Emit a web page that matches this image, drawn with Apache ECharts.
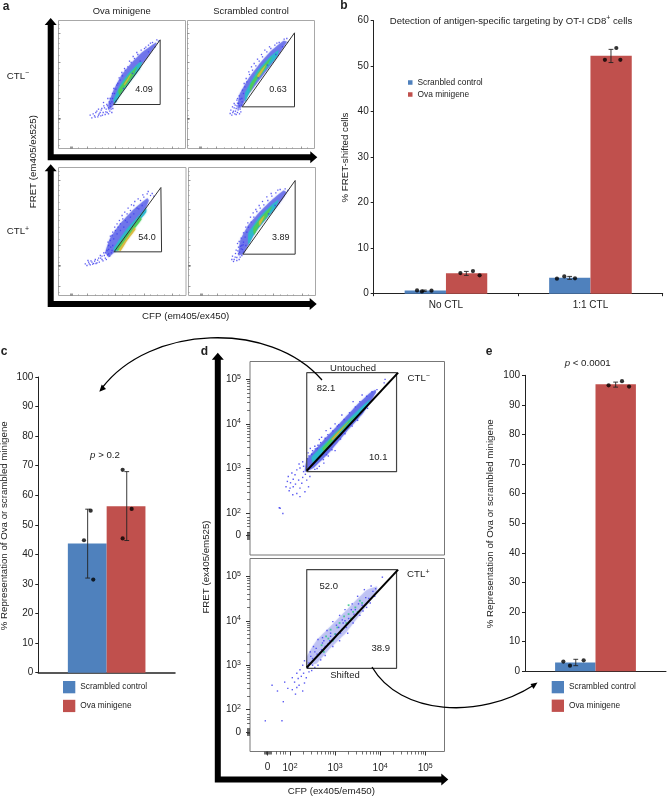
<!DOCTYPE html>
<html><head><meta charset="utf-8">
<style>html,body{margin:0;padding:0;background:#fff}#c{width:667px;height:797px}</style>
<script src="https://cdn.jsdelivr.net/npm/echarts@6/dist/echarts.min.js"></script>
</head><body><div id="c"></div>
<script>
const FONT='"Liberation Sans"';
const BLUE='#4f81bd', RED='#c0504d', NAME_S='Scrambled control', NAME_O='Ova minigene', NAME_TYPO='Scranbled control';

// ---- panel b values
const bCategories=['No CTL','1:1 CTL'];
const bScrambled=[0.7,3.5];
const bOva=[4.5,52.3];
const bDots=[[0.30,0.73],[0.334,0.5],[0.40,0.66],[0.60,4.54],[0.687,4.98],[0.733,4.03],[1.268,3.3],[1.319,3.8],[1.393,3.37],[1.60,51.4],[1.679,54],[1.707,51.4]];
const bErrors=[[0.35,0.5,0.8],[0.641,4.03,4.9],[1.356,3.15,3.8],[1.642,50.8,53.7]];
// ---- panel c values
const cScrambled=[43.7];
const cOva=[56.3];
const cDots=[[0.383,54.8],[0.334,44.8],[0.402,31.5],[0.617,68.6],[0.683,55.4],[0.617,45.4]];
const cErrors=[[0.361,32,55.3],[0.647,44.7,68]];
// ---- panel e values
const eScrambled=[3.0];
const eOva=[97];
const eDots=[[0.272,3.3],[0.319,1.9],[0.416,3.7],[0.593,96.6],[0.688,98],[0.738,96.2]];
const eErrors=[[0.36,1.9,4.05],[0.643,96,97.7]];

// ---- panel a: flow plots, channel units
const aTL={
 gate:[[165,132],[305,326],[305,132],[165,132]],
 blue:[[150,135],[165,175],[190,222],[220,258],[250,288],[292,318],[295,315],[265,270],[235,235],[205,195],[175,155],[165,130],[150,115]],
 cyan:[[165,145],[185,190],[210,225],[240,255],[250,260],[245,240],[215,200],[185,160],[170,135]],
 green:[[180,175],[210,217],[235,245],[225,220],[200,187],[183,160]],
 hot:[[197,193],[218,226],[212,212],[199,190]],
 specks:[[95,100],[100,92],[108,98],[112,108],[118,95],[122,104],[128,115],[132,100],[138,122],[142,110],[147,128],[150,104],[155,135],[158,118],[162,150],[168,165],[172,178],[178,195],[185,205],[192,218],[200,235],[208,245],[218,258],[228,270],[238,282],[248,295],[258,300],[270,310],[282,318],[295,326],[120,118],[135,138],[148,150],[300,322],[290,305],[270,290],[245,262],[222,225],[195,180],[172,142],
  [104,104],[110,94],[115,112],[120,100],[125,108],[127,98],[130,120],[134,108],[136,128],[140,102],[143,118],[145,132],[146,108],[150,122],[152,140],[154,112],[156,126],[160,140],[160,108],[163,120],[155,150],[162,165],[166,180],[175,190],[182,212],[190,228],[198,240],[213,262],[224,276],[235,288],[262,304],[276,316]]
};
const aTR={
 gate:[[164,125],[321,347],[321,125],[164,125]],
 blue:[[155,160],[183,210],[213,250],[248,290],[288,323],[298,320],[273,280],[238,235],[208,195],[178,155],[163,125],[150,118]],
 cyan:[[173,165],[208,230],[248,275],[273,295],[268,275],[228,230],[193,185],[173,140]],
 green:[[188,190],[218,235],[253,275],[233,240],[203,200],[188,170]],
 hot:[[210,220],[236,253],[225,232],[212,212]],
 specks:[[128,105],[133,100],[138,112],[142,104],[146,120],[150,108],[153,135],[158,118],[163,150],[168,165],[172,185],[178,200],[186,222],[195,235],[205,248],[215,262],[225,275],[238,290],[250,300],[262,310],[275,318],[290,328],[298,330],[135,125],[140,135],[148,145],[155,158],[300,318],[285,305],[265,282],[240,250],[212,212],
  [130,115],[136,108],[140,122],[144,112],[148,128],[150,136],[152,116],[156,104],[156,128],[158,148],[160,110],[162,130],[164,140],[146,102],[143,130],[150,150],[165,175],[170,195],[176,210],[184,230],[192,245],[200,255],[210,268],[222,282],[232,295],[246,305],[268,316]]
};
const aBL={
 gate:[[166,131],[306,324],[308,131],[166,131]],
 blue:[[140,130],[154,172],[184,215],[224,258],[265,292],[270,285],[254,247],[224,207],[194,167],[169,132],[150,115]],
 cyan:[[165,140],[205,200],[250,250],[262,262],[262,250],[225,205],[185,150],[170,130]],
 green:[[172,140],[210,192],[245,235],[248,228],[212,182],[178,133]],
 hot:[[180,137],[212,182],[228,205],[230,198],[205,165],[185,133]],
 specks:[[80,95],[85,90],[90,100],[95,92],[100,100],[105,96],[110,108],[115,98],[120,112],[125,120],[130,108],[135,128],[140,112],[145,135],[150,150],[155,165],[160,180],[165,170],[170,195],[178,205],[185,215],[192,230],[200,225],[205,245],[215,255],[225,270],[235,262],[245,285],[255,295],[265,305],[275,300],[285,298],[175,185],[185,195],[195,205],[205,220],[215,235],[225,245],[240,260],[250,270],[150,125],[160,135],
  [88,105],[92,95],[97,104],[102,94],[108,103],[112,96],[117,106],[122,100],[126,112],[130,118],[133,104],[137,120],[140,128],[143,108],[147,122],[150,138],[153,118],[156,145],[158,128],[162,150],[148,160],[155,178],[162,190],[168,205],[175,215],[182,225],[190,240],[198,250],[208,262],[218,272],[228,282],[238,290],[252,302],[268,312],[280,306]]
};
const aBR={
 gate:[[163,124],[320,345],[320,124],[163,124]],
 blue:[[155,165],[180,212],[210,247],[245,282],[285,315],[295,309],[270,272],[235,232],[205,197],[180,152],[165,125],[150,120]],
 cyan:[[180,187],[210,232],[245,267],[270,287],[260,262],[225,222],[195,182],[180,152]],
 green:[[195,202],[225,242],[250,267],[235,237],[210,207],[197,182]],
 hot:[[212,222],[228,240],[221,224],[214,209]],
 specks:[[130,108],[135,102],[140,115],[145,105],[150,125],[155,115],[158,140],[165,130],[165,160],[170,175],[175,190],[180,205],[188,220],[196,235],[205,252],[215,262],[226,272],[238,285],[250,298],[262,308],[275,318],[290,320],[298,315],[150,145],[160,150],[172,150],[260,270],[240,245],
  [132,118],[137,108],[141,126],[145,114],[148,134],[152,108],[153,130],[156,148],[160,120],[162,138],[164,152],[143,136],[147,156],[152,162],[158,172],[165,188],[172,205],[178,218],[186,235],[194,248],[202,258],[212,270],[222,282],[235,296],[248,306],[268,316]]
};
// ---- panel d: flow plots, log10 decade units
const dGateRect=[[2.37,2.93],[2.37,5.15],[4.365,5.15],[4.365,2.93],[2.37,2.93]];
const dGateDiag=[[2.37,2.95],[4.40,5.15]];
const dTop={
 blue:[[2.37,3.2],[2.74,3.63],[3.11,4.02],[3.48,4.42],[3.78,4.70],[3.90,4.76],[3.91,4.71],[3.63,4.25],[3.26,3.83],[2.89,3.38],[2.52,3.01],[2.33,2.93]],
 cyan:[[2.48,3.25],[2.89,3.68],[3.26,4.06],[3.63,4.42],[3.78,4.55],[3.63,4.31],[3.26,3.93],[2.89,3.52],[2.52,3.10]],
 green:[[2.72,3.45],[2.96,3.72],[3.26,4.02],[3.48,4.21],[3.26,3.98],[2.96,3.65],[2.75,3.40]],
 hot:[[2.92,3.66],[3.15,3.90],[3.30,4.06],[3.17,3.90],[2.94,3.64]],
 specks:[[1.78,2.11],[1.84,1.99],[1.76,2.12],[1.94,2.71],[2.0,2.56],[2.07,2.59],[2.15,2.44],[2.22,2.37],[2.06,2.41],[1.96,2.82],[2.11,2.86],[2.19,2.74],[2.26,2.67],[2.37,2.74],[2.44,2.82],[2.30,2.93],[2.22,3.01],[2.15,2.97],[2.07,2.76],[2.22,2.56],[2.41,2.59],[2.33,2.48],[2.01,2.68],[1.91,2.59],[4.11,5.0],[4.09,4.92],[3.93,4.77],[2.74,3.2],[2.81,3.31],[2.93,3.42],[3.0,3.4],[2.2,3.1],[2.45,3.45],[2.55,3.5],[2.65,3.65],[2.8,3.85],[3.0,4.0],[3.15,4.2],[3.4,4.5],[3.6,4.65],[2.28,3.15],[2.3,3.05],[2.4,3.35],[2.5,3.4],[2.6,3.45],[2.7,3.7],[2.9,3.9],[3.05,3.95],[2.55,2.98],[2.65,3.05],[2.75,3.12],[2.12,2.65],[2.28,2.8],[2.34,2.87],[2.04,2.9],[1.98,2.5],
  [2.38,3.22],[2.42,3.28],[2.48,3.32],[2.56,3.44],[2.62,3.52],[2.68,3.58],[2.78,3.68],[2.84,3.76],[2.95,3.84],[3.08,3.98],[3.2,4.1],[3.32,4.25],[3.45,4.38],[3.55,4.5],[3.7,4.62],[3.82,4.72],[3.12,3.66],[3.22,3.78],[3.38,3.95],[3.5,4.08],[3.72,4.35],[2.6,3.0],[2.85,3.28]]
};
const dBottom={
 blue:[[2.37,3.19],[2.59,3.56],[2.96,3.94],[3.33,4.32],[3.70,4.69],[3.93,4.77],[3.93,4.65],[3.63,4.24],[3.26,3.75],[2.89,3.38],[2.59,3.04],[2.37,3.0]],
 greenSpecks:[[2.9,3.8],[3.05,3.85],[3.2,4.1],[3.3,4.15],[3.0,3.7],[2.85,3.6],[2.7,3.45],[3.1,3.95],[3.35,4.05],[3.45,4.3],[3.55,4.45],[3.25,3.95],[3.4,4.2],[2.95,3.55],[3.15,3.8],[3.5,4.2],[2.75,3.3],[2.8,3.65],[3.6,4.4],[3.3,4.35]],
 specks:[[1.85,2.18],[1.45,1.75],[1.82,1.75],[1.6,2.55],[1.72,2.42],[1.88,2.62],[1.95,2.48],[2.05,2.45],[2.12,2.35],[2.15,2.5],[2.2,2.55],[2.28,2.42],[2.32,2.6],[2.1,2.62],[2.05,2.72],[2.18,2.7],[2.25,2.75],[2.3,2.82],[2.36,2.72],[2.42,2.85],[2.15,2.82],[2.22,2.9],[2.28,3.0],[2.32,3.1],[2.4,2.95],[2.48,2.88],[2.55,2.95],[2.6,3.25],[2.45,3.3],[2.52,3.42],[2.62,3.58],[2.72,3.62],[2.82,3.78],[2.95,3.98],[3.1,4.12],[3.22,4.25],[3.38,4.38],[3.5,4.55],[3.65,4.7],[3.8,4.78],[3.9,4.72],[4.05,4.98],[3.88,4.55],[3.7,4.3],[3.55,4.12],[3.4,3.95],[3.28,3.72],[3.1,3.55],[2.95,3.42],[2.78,3.22],[2.68,3.12],[2.62,3.0],[2.75,3.55],[2.88,3.55],[3.02,3.7],[3.18,3.95],[3.3,4.05],[3.45,4.25],[3.6,4.35],[2.5,3.15],[2.55,3.3],[2.7,3.35],[2.9,3.65],[3.08,3.85],[3.22,4.0],[3.42,4.15],
  [2.42,3.05],[2.46,3.2],[2.5,3.0],[2.58,3.38],[2.66,3.28],[2.72,3.5],[2.78,3.42],[2.84,3.48],[2.9,3.72],[2.98,3.6],[3.03,3.9],[3.12,3.72],[3.16,4.02],[3.25,3.85],[3.33,4.0],[3.36,4.25],[3.46,4.12],[3.52,4.38],[3.62,4.22],[3.68,4.52],[3.75,4.5],[3.78,4.4],[3.84,4.66]]
};
// ---- tick positions of the decade axes
const dMajor=[1.5,2,3,4,5];
const dMinor=[1.42,1.44,1.46,1.48,1.5,1.52,1.54,1.56,1.58,1.7,1.78,1.84,1.9];
[2,3,4].forEach(d=>[2,3,4,5,6,7,8,9].forEach(k=>dMinor.push(d+Math.log10(k))));
const aMajorY=[27,88,90,92,152,258,347], aMajorX=[36,38,40,85,170,255,340];
const aMinorY=[10,60,80,100,115,135,170,190,205,225,240,280,300,315,330,360,372];
const aMinorX=[60,110,130,150,190,210,230,275,295,315,360];

const grids=[],xAxes=[],yAxes=[],series=[];
function grid(l,t,r,b,extra){grids.push(Object.assign({left:l,top:t,width:r-l,height:b-t,containLabel:false},extra||{}));return grids.length-1;}
function xA(o){xAxes.push(Object.assign({position:'bottom'},o));return xAxes.length-1;}
function yA(o){yAxes.push(Object.assign({position:'left'},o));return yAxes.length-1;}
const labelStyle={fontFamily:FONT,fontSize:10,color:'#222'};
const supRich={n:{fontFamily:FONT,fontSize:10,color:'#222'},s:{fontFamily:FONT,fontSize:7,color:'#222',padding:[0,0,5,0]}};

function polygonSeries(g,xi,yi,layers){
  series.push({type:'custom',xAxisIndex:xi,yAxisIndex:yi,silent:true,clip:true,
    data:layers.map(l=>l.pts[0]),
    renderItem(p,api){const l=layers[p.dataIndex];
      return {type:'polygon',shape:{points:l.pts.map(q=>api.coord(q)),smooth:0.12},style:{fill:l.color,opacity:l.op===undefined?1:l.op,shadowBlur:1.5,shadowColor:l.color}};}});
}
function specks(xi,yi,data,color,size){series.push({type:'scatter',xAxisIndex:xi,yAxisIndex:yi,silent:true,data,symbol:'rect',symbolSize:size||1.3,itemStyle:{color:color||'#3d3df0',opacity:0.85}});}
function gateLine(xi,yi,data,w,color){series.push({type:'line',xAxisIndex:xi,yAxisIndex:yi,silent:true,data,symbol:'none',animation:false,lineStyle:{color:color||'#444',width:w||1}});}

function flowA(box,p){
  const g=grid(box[0],box[1],box[2],box[3],{show:true,borderColor:'#a8a8a8',borderWidth:1,backgroundColor:'transparent'});
  const tick=(v,len,c)=>({show:true,customValues:v,inside:true,length:len,lineStyle:{color:c,width:.6}});
  const base={type:'value',gridIndex:g,min:0,splitLine:{show:false},axisLine:{show:false},axisLabel:{show:false}};
  const x=xA({...base,max:381,axisTick:tick(aMajorX,2,'#555')});
  const y=yA({...base,max:384,axisTick:tick(aMajorY,2,'#555')});
  xA({...base,max:381,axisTick:tick(aMinorX,1.2,'#888')});
  yA({...base,max:384,axisTick:tick(aMinorY,1.2,'#888')});
  polygonSeries(g,x,y,[{pts:p.blue,color:'#4a52e6',op:.55},{pts:p.cyan,color:'#2cb8cc',op:.9},{pts:p.green,color:'#4ecb5a',op:.9},{pts:p.hot,color:'#d8b83a',op:.9}]);
  specks(x,y,p.specks);
  gateLine(x,y,p.gate,1,'#333');
}
flowA([58.5,20.5,185.5,148.5],aTL);
flowA([187.5,20.5,314.5,148.5],aTR);
flowA([58.5,167.5,186,295.5],aBL);
flowA([188.5,167.5,315.5,295.5],aBR);

function flowD(top,bottom,showX,p,layers){
  const g=grid(250,top,444.5,bottom,{show:true,borderColor:'#777',borderWidth:1,backgroundColor:'transparent'});
  const fmt=v=>v===1.5?'{n|0}':'{n|10}{s|'+Math.round(v)+'}';
  const x=xA({type:'value',gridIndex:g,min:1.11,max:5.43,splitLine:{show:false},axisLine:{show:false},
    axisTick:{show:showX,customValues:dMajor,length:4,lineStyle:{color:'#333',width:1}},
    axisLabel:{show:showX,customValues:dMajor,formatter:fmt,rich:supRich,margin:11,hideOverlap:false}});
  const y=yA({type:'value',gridIndex:g,min:1.06,max:5.40,splitLine:{show:false},axisLine:{show:false},
    axisTick:{show:true,customValues:dMajor,length:4,lineStyle:{color:'#333',width:1}},
    axisLabel:{show:true,customValues:dMajor,formatter:fmt,rich:supRich,margin:9,hideOverlap:false}});
  xA({type:'value',gridIndex:g,min:1.11,max:5.43,splitLine:{show:false},axisLine:{show:false},axisLabel:{show:false},
    axisTick:{show:showX,customValues:dMinor,length:3,lineStyle:{color:'#333',width:.7}}});
  yA({type:'value',gridIndex:g,min:1.06,max:5.40,splitLine:{show:false},axisLine:{show:false},axisLabel:{show:false},
    axisTick:{show:true,customValues:dMinor,length:3,lineStyle:{color:'#333',width:.7}}});
  polygonSeries(g,x,y,layers);
  if(p.greenSpecks) specks(x,y,p.greenSpecks,'#35c48a',1.8);
  specks(x,y,p.specks,'#3d3df0',1.4);
  gateLine(x,y,dGateRect,1.2,'#444');
  gateLine(x,y,dGateDiag,2,'#000');
}
flowD(361.5,555,false,dTop,[{pts:dTop.blue,color:'#4a52e6',op:.6},{pts:dTop.cyan,color:'#2cb8cc',op:.95},{pts:dTop.green,color:'#4ecb5a'},{pts:dTop.hot,color:'#d8a83a'}]);
flowD(558.5,751.5,true,dBottom,[{pts:dBottom.blue,color:'#6a72e6',op:.25}]);

function barPanel(o){
  const g=grid(o.l,o.t,o.r,o.b);
  const x=xA({type:'category',gridIndex:g,data:o.cats,
    axisLine:{show:true,lineStyle:{color:'#222',width:o.xw||1}},
    axisTick:{show:!!o.xTicks,length:2.5,lineStyle:{color:'#222'}},
    axisLabel:{show:!!o.xTicks,...labelStyle,margin:7}});
  const y=yA({type:'value',gridIndex:g,min:0,max:o.ymax,interval:10,splitLine:{show:false},
    axisLine:{show:true,lineStyle:{color:'#222',width:1}},axisTick:{show:true,length:3,lineStyle:{color:'#222'}},
    axisLabel:{...labelStyle,margin:5}});
  const x2=xA({type:'value',gridIndex:g,min:0,max:o.cats.length,show:false});
  series.push({name:o.nameS,type:'bar',xAxisIndex:x,yAxisIndex:y,data:o.s,barWidth:o.bw,barGap:'0%',itemStyle:{color:BLUE}});
  series.push({name:NAME_O,type:'bar',xAxisIndex:x,yAxisIndex:y,data:o.o,barWidth:o.bw,barGap:'0%',itemStyle:{color:RED}});
  series.push({type:'custom',xAxisIndex:x2,yAxisIndex:y,silent:true,z:5,data:o.err,encode:{x:0,y:[1,2]},
    renderItem(p,api){const a=api.coord([api.value(0),api.value(1)]),b=api.coord([api.value(0),api.value(2)]),c=2.4;
      const st={stroke:'#222',lineWidth:.9};
      return {type:'group',children:[
        {type:'line',shape:{x1:a[0],y1:a[1],x2:b[0],y2:b[1]},style:st},
        {type:'line',shape:{x1:a[0]-c,y1:a[1],x2:a[0]+c,y2:a[1]},style:st},
        {type:'line',shape:{x1:b[0]-c,y1:b[1],x2:b[0]+c,y2:b[1]},style:st}]};}});
  series.push({type:'scatter',xAxisIndex:x2,yAxisIndex:y,silent:true,z:6,data:o.dots,symbolSize:o.ds||4.2,itemStyle:{color:'#000'}});
}
barPanel({l:373.7,t:20.7,r:662.7,b:293.7,cats:bCategories,s:bScrambled,o:bOva,nameS:NAME_TYPO,bw:41.3,ymax:60,dots:bDots,err:bErrors,xTicks:true});
barPanel({l:38.3,t:377,r:175,b:672.7,cats:['Representation'],s:cScrambled,o:cOva,nameS:NAME_S,bw:38.8,ymax:100,dots:cDots,err:cErrors,xw:1.5});
barPanel({l:525,t:375.3,r:666,b:671.3,cats:['Representation'],s:eScrambled,o:eOva,nameS:NAME_S,bw:40.4,ymax:100,dots:eDots,err:eErrors,xw:1});

const legends=[
 {left:408,top:78.5,padding:0,orient:'vertical',icon:'rect',itemWidth:4.5,itemHeight:4.5,itemGap:4,data:[{name:NAME_TYPO},{name:NAME_O}],textStyle:{fontFamily:FONT,fontSize:8.4,color:'#222'},selectedMode:false},
 {left:63,top:681,padding:0,orient:'vertical',icon:'rect',itemWidth:12.3,itemHeight:12.3,itemGap:6.5,data:[{name:NAME_S},{name:NAME_O}],textStyle:{fontFamily:FONT,fontSize:8.3,color:'#222'},selectedMode:false},
 {left:551.7,top:681,padding:0,orient:'vertical',icon:'rect',itemWidth:12.3,itemHeight:12.3,itemGap:6.3,data:[{name:NAME_S},{name:NAME_O}],textStyle:{fontFamily:FONT,fontSize:8.3,color:'#222'},selectedMode:false}
];

// ---- annotations
const rich={n:{fontFamily:FONT,color:'#222',fontSize:9.7},s:{fontFamily:FONT,color:'#222',fontSize:7,padding:[0,0,5,0]},i:{fontFamily:FONT,color:'#222',fontSize:9.7,fontStyle:'italic'}};
function t(text,x,y,o){o=o||{};return {type:'text',x,y,rotation:o.rot||0,z:20,silent:true,style:{text,align:o.align||'center',verticalAlign:'middle',fontFamily:FONT,fontSize:o.size||9.7,fontWeight:o.weight||'normal',fill:'#222',rich:o.rich}};}
const R90=Math.PI/2;
const texts=[
 t('a',6,7,{size:12,weight:'bold'}),t('b',344,6,{size:12,weight:'bold'}),t('c',4,352,{size:12,weight:'bold'}),t('d',204.5,352,{size:12,weight:'bold'}),t('e',489,352,{size:12,weight:'bold'}),
 t('Ova minigene',121.7,11,{size:9.4}),t('Scrambled control',251,11,{size:9.4}),
 t('{n|CTL}{s|−}',18,76,{rich}),t('{n|CTL}{s|+}',18,231.7,{rich}),
 t('FRET (em405/ex525)',33.3,161.7,{rot:R90}),t('CFP (em405/ex450)',185.7,316),
 t('4.09',144,90,{size:9}),t('0.63',278,90,{size:9}),t('54.0',147,237.7,{size:9}),t('3.89',280.7,237.7,{size:9}),
 t('{n|Detection of antigen-specific targeting by OT-I CD8}{s|+}{n| cells}',511,21,{rich:{...rich,n:{...rich.n,fontSize:9.6}}}),
 t('% FRET-shifted cells',345,157.5,{rot:R90}),
 t('% Representation of Ova or scrambled minigene',4.5,525.8,{rot:R90}),
 t('% Representation of Ova or scrambled minigene',490,523.8,{rot:R90}),
 t('{i|p}{n| > 0.2}',105,455.7,{rich}),t('{i|p}{n| < 0.0001}',587.7,363.7,{rich}),
 t('Untouched',353,368.3,{size:9.5}),t('{n|CTL}{s|−}',418.7,378.3,{rich}),t('82.1',326,388.7,{size:9.5}),t('10.1',378.3,457.3,{size:9.5}),
 t('{n|CTL}{s|+}',418.3,574.7,{rich}),t('52.0',328.7,586,{size:9.5}),t('38.9',380.7,648.3,{size:9.5}),t('Shifted',345,675.7,{size:9.5}),
 t('FRET (ex405/em525)',206,567,{rot:R90}),t('CFP (ex405/em450)',331.3,791.3)
];
function poly(points){return {type:'polygon',z:15,silent:true,shape:{points},style:{fill:'#000'}};}
function arrowUpRight(x,tipY,cornerY,tipX){ // L-shaped thick axis arrow
  return poly([[x-3,cornerY+3],[x-3,tipY+7],[x-6,tipY+7],[x,tipY],[x+6,tipY+7],[x+3,tipY+7],[x+3,cornerY-3],[tipX-7,cornerY-3],[tipX-7,cornerY-6],[tipX,cornerY],[tipX-7,cornerY+6],[tipX-7,cornerY+3]]);
}
const arrows=[
 arrowUpRight(50.7,18,157.3,317.3),arrowUpRight(50.7,164.3,304,316.7),arrowUpRight(217.8,352.7,779.5,448.3),
 {type:'bezierCurve',z:15,silent:true,shape:{x1:322,y1:380,cpx1:270,cpy1:320,cpx2:150,cpy2:325,x2:102,y2:388},style:{stroke:'#000',lineWidth:1.3,fill:'none'}},
 poly([[99.3,391.7],[101.7,384.5],[106,389]]),
 {type:'bezierCurve',z:15,silent:true,shape:{x1:372,y1:667,cpx1:400,cpy1:715,cpx2:480,cpy2:720,x2:534,y2:685},style:{stroke:'#000',lineWidth:1.3,fill:'none'}},
 poly([[537.5,682.5],[530.5,684],[533.5,689]])
];

const chart=echarts.init(document.getElementById('c'),null,{renderer:'canvas'});
chart.setOption({animation:false,backgroundColor:'#fff',textStyle:{fontFamily:FONT},grid:grids,xAxis:xAxes,yAxis:yAxes,series,legend:legends,graphic:{elements:[...texts,...arrows]}});
</script></body></html>
